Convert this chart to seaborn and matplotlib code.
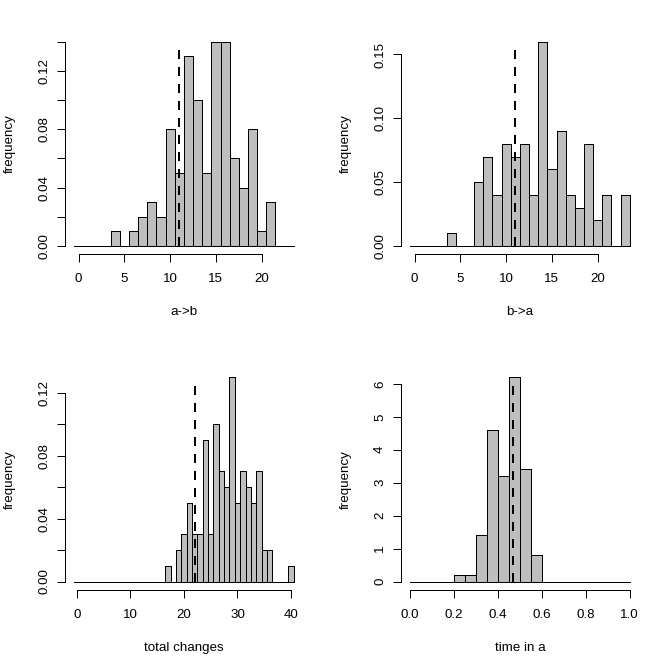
import numpy as np
import matplotlib
matplotlib.use("Agg")
import matplotlib.pyplot as plt
import seaborn as sns

# bin centres and bar heights
ab_vals = np.arange(0, 24)
ab_freq = [0, 0, 0, 0, 0.01, 0, 0.01, 0.02, 0.03, 0.02, 0.08, 0.05,
           0.13, 0.10, 0.05, 0.14, 0.14, 0.06, 0.04, 0.08, 0.01, 0.03, 0, 0]

ba_vals = np.arange(0, 24)
ba_freq = [0, 0, 0, 0, 0.01, 0, 0, 0.05, 0.07, 0.04, 0.08, 0.07,
           0.08, 0.04, 0.16, 0.06, 0.09, 0.04, 0.03, 0.08, 0.02, 0.04, 0, 0.04]

tot_vals = np.arange(0, 41)
tot_freq = [0, 0, 0, 0, 0, 0, 0, 0, 0, 0, 0, 0, 0, 0, 0, 0, 0,
            0.01, 0, 0.02, 0.03, 0.05, 0.03, 0.03, 0.09, 0.03, 0.10, 0.07,
            0.06, 0.13, 0.05, 0.07, 0.06, 0.05, 0.07, 0.02, 0.02, 0, 0, 0, 0.01]

time_vals = np.arange(0.025, 1.0, 0.05)
time_dens = [0, 0, 0, 0, 0.2, 0.2, 1.4, 4.6, 3.2, 6.2, 3.4, 0.8,
             0, 0, 0, 0, 0, 0, 0, 0]

# observed values (dashed lines)
ab_obs = 11
ba_obs = 11
tot_obs = 22
time_obs = 0.47

sns.set_style("ticks")
plt.rcParams['font.family'] = ['Liberation Sans', 'DejaVu Sans']
plt.rcParams.update({'axes.edgecolor': 'black', 'text.color': 'black',
                     'axes.labelcolor': 'black', 'xtick.color': 'black',
                     'ytick.color': 'black', 'lines.antialiased': False,
                     'patch.antialiased': False})

panels = [
    dict(vals=ab_vals, h=ab_freq, edges=np.arange(-0.5, 24, 1), obs=ab_obs,
         xlab='a->b', xt=[0, 5, 10, 15, 20], xtl=['0', '5', '10', '15', '20'],
         yt=np.arange(0, 0.141, 0.02),
         ytl=['0.00', '', '0.04', '', '0.08', '', '0.12', '']),
    dict(vals=ba_vals, h=ba_freq, edges=np.arange(-0.5, 24, 1), obs=ba_obs,
         xlab='b->a', xt=[0, 5, 10, 15, 20], xtl=['0', '5', '10', '15', '20'],
         yt=[0, 0.05, 0.10, 0.15], ytl=['0.00', '0.05', '0.10', '0.15']),
    dict(vals=tot_vals, h=tot_freq, edges=np.arange(-0.5, 41, 1), obs=tot_obs,
         xlab='total changes', xt=[0, 10, 20, 30, 40],
         xtl=['0', '10', '20', '30', '40'],
         yt=np.arange(0, 0.121, 0.02),
         ytl=['0.00', '', '0.04', '', '0.08', '', '0.12']),
    dict(vals=time_vals, h=time_dens, edges=np.linspace(0, 1, 21), obs=time_obs,
         xlab='time in a', xt=[0, 0.2, 0.4, 0.6, 0.8, 1.0],
         xtl=['0.0', '0.2', '0.4', '0.6', '0.8', '1.0'],
         yt=[0, 1, 2, 3, 4, 5, 6], ytl=['0', '1', '2', '3', '4', '5', '6']),
]

fig = plt.figure(figsize=(7, 6.99), dpi=96)
W, H = 672.0, 671.0
lft, rgt, top, bot = 65.3, 33.5, 33.5, 81.3
cw, ch = 336.0, 335.5

for i, p in enumerate(panels):
    r, c = divmod(i, 2)
    x0 = (c * cw + lft) / W
    y0 = (H - (r + 1) * ch + bot) / H
    ax = fig.add_axes([x0, y0, (cw - lft - rgt) / W, (ch - top - bot) / H])

    sns.histplot(x=p['vals'], weights=p['h'], bins=list(p['edges']),
                 stat='count', color='#BEBEBE', alpha=1, edgecolor='black',
                 linewidth=0.75, antialiased=False, ax=ax)

    hmax = max(p['h'])
    ax.plot([p['obs'], p['obs']], [0, 0.98 * hmax], color='black', lw=1.5,
            ls=(0, (4, 4)), zorder=5)

    e0, e1 = p['edges'][0], p['edges'][-1]
    dx = (e1 - e0) * 0.04
    ax.set_xlim(e0 - dx, e1 + dx)
    ax.set_ylim(-0.04 * hmax, 1.04 * hmax)

    ax.set_xticks(p['xt'])
    ax.set_xticklabels(p['xtl'])
    ax.set_yticks(p['yt'])
    ax.set_yticklabels(p['ytl'], rotation=90, va='center')

    ax.spines[['top', 'right']].set_visible(False)
    ax.spines['left'].set_bounds(p['yt'][0], p['yt'][-1])
    ax.spines['bottom'].set_bounds(p['xt'][0], p['xt'][-1])
    for s in ('left', 'bottom'):
        ax.spines[s].set_linewidth(0.75)
        ax.spines[s].set_antialiased(False)
    ax.tick_params(direction='out', length=6, width=0.75, labelsize=10)
    ax.tick_params(axis='x', pad=8.3)
    ax.tick_params(axis='y', pad=5.4)

    ax.set_xlabel(p['xlab'], fontsize=10)
    ax.set_ylabel('frequency', fontsize=10)
    ax.xaxis.set_label_coords(0.5, -0.2347)
    ax.yaxis.set_label_coords(-0.2078, 0.5)

fig.savefig('out.png', dpi=96, facecolor='white')
